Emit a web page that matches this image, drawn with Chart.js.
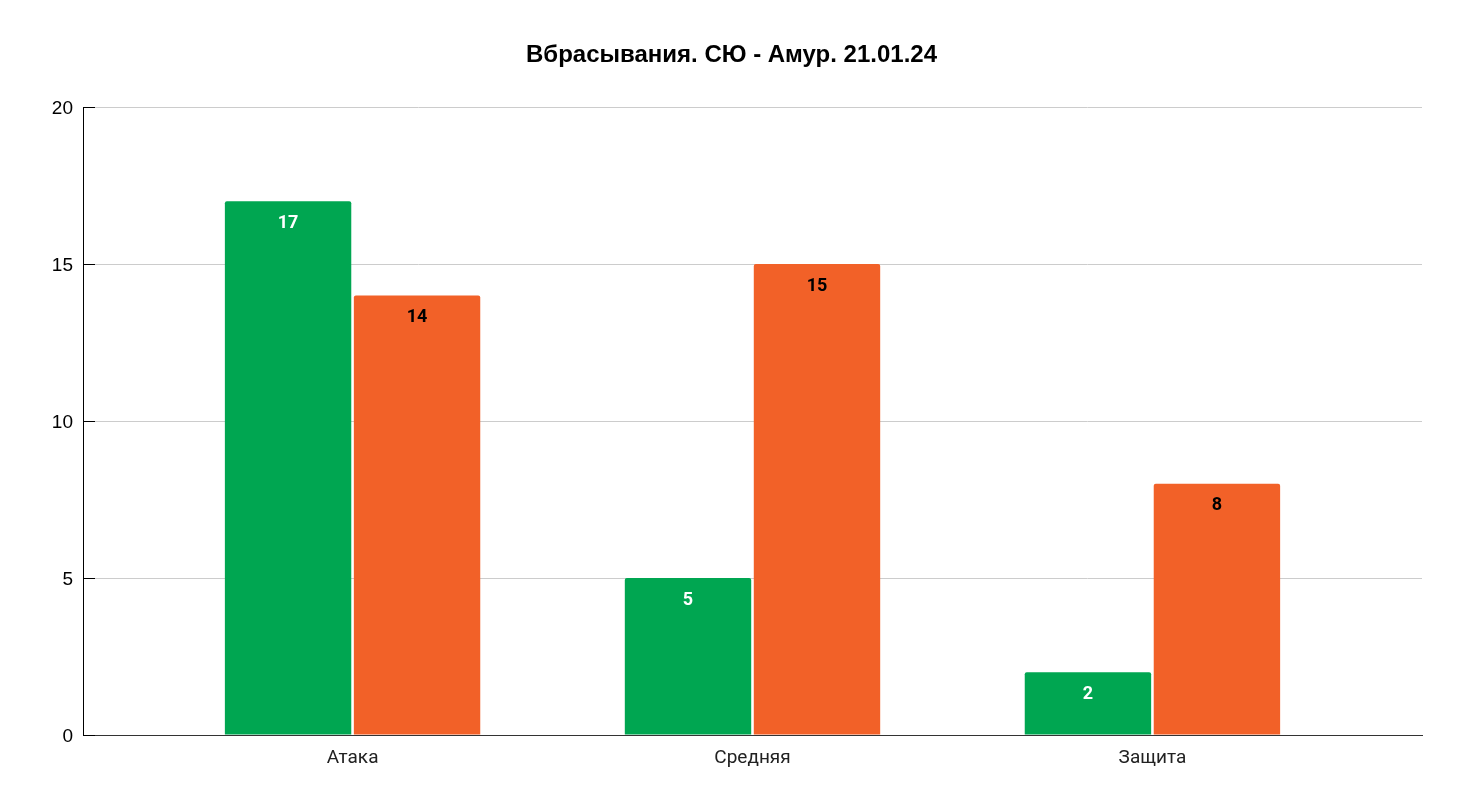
<!DOCTYPE html>
<html>
<head>
<meta charset="utf-8">
<script src="https://cdn.jsdelivr.net/npm/chart.js@4/dist/chart.umd.min.js"></script>
<style>
  html, body { margin: 0; padding: 0; background: #fff; }
  #wrap { width: 1463px; height: 810px; }
</style>
</head>
<body>
<div id="wrap"><canvas id="chart" width="1463" height="810"></canvas></div>
<script>
// данные графика
const titleText = 'Вбрасывания. СЮ - Амур. 21.01.24';
const categories = ['Атака', 'Средняя', 'Защита'];
const greenValues = [17, 5, 2];
const orangeValues = [14, 15, 8];
const yTicks = [0, 5, 10, 15, 20];

const GREEN = '#00a651';
const ORANGE = '#f26128';

// заголовок по центру всего холста
const centeredTitle = {
    id: 'centeredTitle',
    afterDraw(chart) {
        const ctx = chart.ctx;
        ctx.save();
        ctx.font = 'bold 24px "Liberation Sans"';
        ctx.fillStyle = '#000';
        ctx.textAlign = 'center';
        ctx.textBaseline = 'middle';
        ctx.fillText(titleText, chart.width / 2, 55);
        ctx.restore();
    }
};

// подписи значений внутри столбцов
const valueLabels = {
    id: 'valueLabels',
    afterDatasetsDraw(chart) {
        const ctx = chart.ctx;
        ctx.save();
        ctx.font = 'bold 18px Roboto';
        ctx.textAlign = 'center';
        ctx.textBaseline = 'middle';
        chart.data.datasets.forEach((ds, i) => {
            chart.getDatasetMeta(i).data.forEach((bar, j) => {
                ctx.fillStyle = ds.labelColor;
                ctx.fillText(String(ds.data[j].y), bar.x, bar.y + 22);
            });
        });
        ctx.restore();
    }
};

// короткие черные риски внутри области у оси Y
const innerTicks = {
    id: 'innerTicks',
    afterDraw(chart) {
        const ctx = chart.ctx;
        const y = chart.scales.y;
        const left = chart.chartArea.left;
        ctx.save();
        ctx.strokeStyle = '#000';
        ctx.lineWidth = 1;
        yTicks.forEach(v => {
            const py = Math.round(y.getPixelForValue(v)) + 0.5;
            ctx.beginPath();
            ctx.moveTo(left, py);
            ctx.lineTo(left + 12, py);
            ctx.stroke();
        });
        ctx.restore();
    }
};

const toPoints = arr => arr.map((v, i) => ({ x: i, y: v }));

new Chart(document.getElementById('chart'), {
    type: 'bar',
    data: {
        datasets: [{
            data: toPoints(greenValues),
            backgroundColor: GREEN,
            labelColor: '#ffffff',
            borderRadius: 2,
            borderSkipped: 'bottom',
            categoryPercentage: 0.645,
            barPercentage: 0.98
        }, {
            data: toPoints(orangeValues),
            backgroundColor: ORANGE,
            labelColor: '#000000',
            borderRadius: 2,
            borderSkipped: 'bottom',
            categoryPercentage: 0.645,
            barPercentage: 0.98
        }]
    },
    options: {
        responsive: false,
        animation: false,
        layout: { padding: { top: 107, right: 41, bottom: 0, left: 0 } },
        plugins: {
            legend: { display: false },
            tooltip: { enabled: false },
            title: { display: false }
        },
        scales: {
            x: {
                type: 'linear',
                min: -0.674,
                max: 2.674,
                offset: false,
                grid: { display: false, drawTicks: false },
                border: { color: '#333', width: 1 },
                afterBuildTicks(scale) {
                    scale.ticks = categories.map((c, i) => ({ value: i }));
                },
                afterFit(scale) { scale.height = 75; },
                ticks: {
                    padding: 12,
                    color: '#222',
                    font: { family: 'Roboto', size: 19 },
                    callback: v => categories[v] ?? ''
                }
            },
            y: {
                min: 0,
                max: 20,
                afterBuildTicks(scale) {
                    scale.ticks = yTicks.map(v => ({ value: v }));
                },
                afterFit(scale) { scale.width = 83; },
                grid: { color: '#cccccc', drawTicks: false },
                border: { color: '#000', width: 1 },
                ticks: {
                    padding: 10,
                    labelOffset: 2,
                    color: '#000',
                    font: { family: 'Liberation Sans', size: 19 }
                }
            }
        }
    },
    plugins: [centeredTitle, valueLabels, innerTicks]
});
</script>
</body>
</html>
